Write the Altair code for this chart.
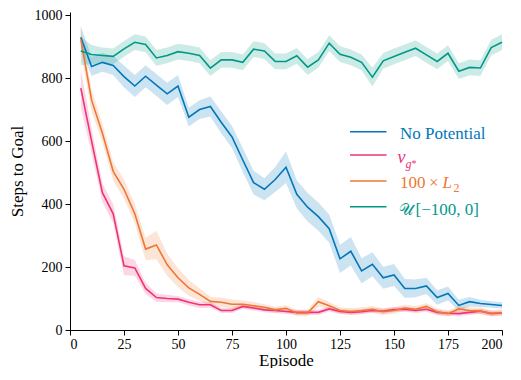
import altair as alt
import pandas as pd

episodes = list(range(5, 205, 5))
series_names = ["No Potential", "v_g*", "100 x L2", "U[-100,0]"]
colors = ["#0077BB", "#EE3377", "#EE7733", "#009988"]

no_potential = [930, 837, 850, 840, 805, 775, 806, 778, 750, 775,
                676, 700, 710, 660, 613, 540, 468, 447, 478, 517,
                431, 390, 360, 322, 226, 250, 188, 209, 166, 175,
                132, 132, 140, 103, 116, 78, 90, 84, 81, 78]
no_potential_err = [35, 30, 30, 30, 35, 35, 35, 35, 35, 35,
                    30, 30, 32, 35, 35, 38, 38, 35, 40, 50,
                    45, 45, 45, 45, 45, 45, 40, 38, 35, 35,
                    30, 28, 26, 23, 22, 18, 15, 12, 10, 10]

v_g = [768, 600, 436, 369, 204, 197, 132, 103, 100, 98,
       88, 80, 80, 62, 62, 75, 70, 64, 62, 59,
       56, 56, 56, 67, 59, 56, 58, 62, 60, 65,
       66, 62, 66, 56, 53, 52, 56, 60, 52, 54]
v_g_err = [60, 40, 30, 30, 30, 25, 18, 13, 12, 10,
           10, 10, 9, 8, 8, 8, 8, 8, 8, 8,
           8, 8, 8, 8, 8, 8, 8, 8, 8, 8,
           8, 8, 8, 8, 8, 8, 8, 8, 8, 8]

l2 = [924, 730, 625, 504, 447, 369, 257, 270, 207, 166,
      134, 113, 91, 88, 82, 82, 77, 72, 64, 69,
      54, 54, 90, 77, 62, 59, 62, 66, 58, 62,
      70, 66, 75, 58, 52, 67, 62, 60, 53, 55]
l2_err = [40, 35, 30, 30, 30, 30, 35, 45, 35, 30,
          25, 20, 15, 15, 15, 12, 12, 10, 10, 10,
          10, 10, 15, 12, 10, 10, 10, 10, 10, 10,
          10, 10, 10, 10, 10, 10, 10, 10, 10, 10]

uniform = [886, 875, 872, 869, 893, 914, 907, 864, 872, 884,
           879, 872, 832, 858, 858, 850, 892, 886, 853, 853,
           871, 835, 858, 911, 876, 866, 850, 803, 855, 869,
           882, 895, 874, 853, 879, 822, 834, 832, 897, 914]
uniform_err = [45, 30, 25, 25, 25, 25, 25, 25, 25, 25,
               25, 25, 25, 25, 25, 25, 25, 25, 25, 25,
               25, 25, 25, 25, 25, 25, 25, 30, 25, 25,
               25, 25, 25, 25, 25, 25, 25, 25, 25, 25]

x_ticks = list(range(0, 201, 25))
y_ticks = [0, 200, 400, 600, 800, 1000]

rows = []
for name, mean, err in zip(series_names,
                           [no_potential, v_g, l2, uniform],
                           [no_potential_err, v_g_err, l2_err, uniform_err]):
    for e, m, h in zip(episodes, mean, err):
        rows.append({"series": name, "episode": e, "mean": m, "lo": m - h, "hi": m + h})
df = pd.DataFrame(rows)

FONT = "Liberation Serif"

xs = alt.Scale(domain=[0, 200], nice=False, zero=False)
ys = alt.Scale(domain=[0, 1010], nice=False, zero=False)
color = alt.Color("series:N", scale=alt.Scale(domain=series_names, range=colors), legend=None)

x_enc = alt.X("episode:Q", scale=xs,
              axis=alt.Axis(values=x_ticks, title="Episode", format="d"))
y_axis = alt.Axis(values=y_ticks, title="Steps to Goal", format="d")

bands = alt.Chart(df).mark_area(opacity=0.2).encode(
    x=x_enc,
    y=alt.Y("lo:Q", scale=ys, axis=y_axis),
    y2="hi:Q",
    color=color,
)
lines = alt.Chart(df).mark_line(strokeWidth=1.6).encode(
    x=x_enc,
    y=alt.Y("mean:Q", scale=ys, axis=y_axis),
    color=color,
)

# manual legend (layout positions in pixels, relative to the plot area)
legend_rows_y = [119.7, 143, 169, 194.7]
legend_layers = []
for c, yy in zip(colors, legend_rows_y):
    legend_layers.append(
        alt.Chart(pd.DataFrame({"a": [0]})).mark_rule(color=c, strokeWidth=1.6).encode(
            x=alt.value(280), x2=alt.value(316.5), y=alt.value(yy))
    )


def txt(s, x, y, c, size=17, style="normal"):
    return alt.Chart(pd.DataFrame({"t": [s]})).mark_text(
        align="left", baseline="alphabetic", font=FONT, fontSize=size,
        fontStyle=style, color=c).encode(
        x=alt.value(x), y=alt.value(y), text="t:N")


legend_layers += [
    txt("No Potential", 330, 126.5, colors[0]),
    txt("v", 327.5, 151.3, colors[1], 18, "italic"),
    txt("g", 335.5, 155.5, colors[1], 12, "italic"),
    txt("*", 341.5, 154.5, colors[1], 10),
    txt("100", 330, 176, colors[2]),
    txt("×", 359, 176, colors[2]),
    txt("L", 372.5, 176, colors[2], 17, "italic"),
    txt("2", 383.5, 180, colors[2], 12),
    txt("𝒰", 329, 203, colors[3], 16),
    txt("[−100, 0]", 345.5, 203, colors[3]),
]

chart = alt.layer(bands, lines, *legend_layers).properties(
    width=432, height=318,
    autosize=alt.AutoSizeParams(type="none"),
    padding={"left": 62, "top": 4, "right": 9, "bottom": 38},
).configure_view(stroke=None).configure_axis(
    grid=False, domainColor="black", tickColor="black", domainWidth=1,
    tickSize=5, labelFont=FONT, labelFontSize=14, labelColor="black",
    titleFont=FONT, titleFontSize=17, titleFontWeight="normal", titleColor="black",
    labelPadding=3,
).configure_axisY(titlePadding=8).configure_axisX(titlePadding=1, labelPadding=2)

chart.save("out.html", embed_options={"renderer": "svg", "actions": False})
